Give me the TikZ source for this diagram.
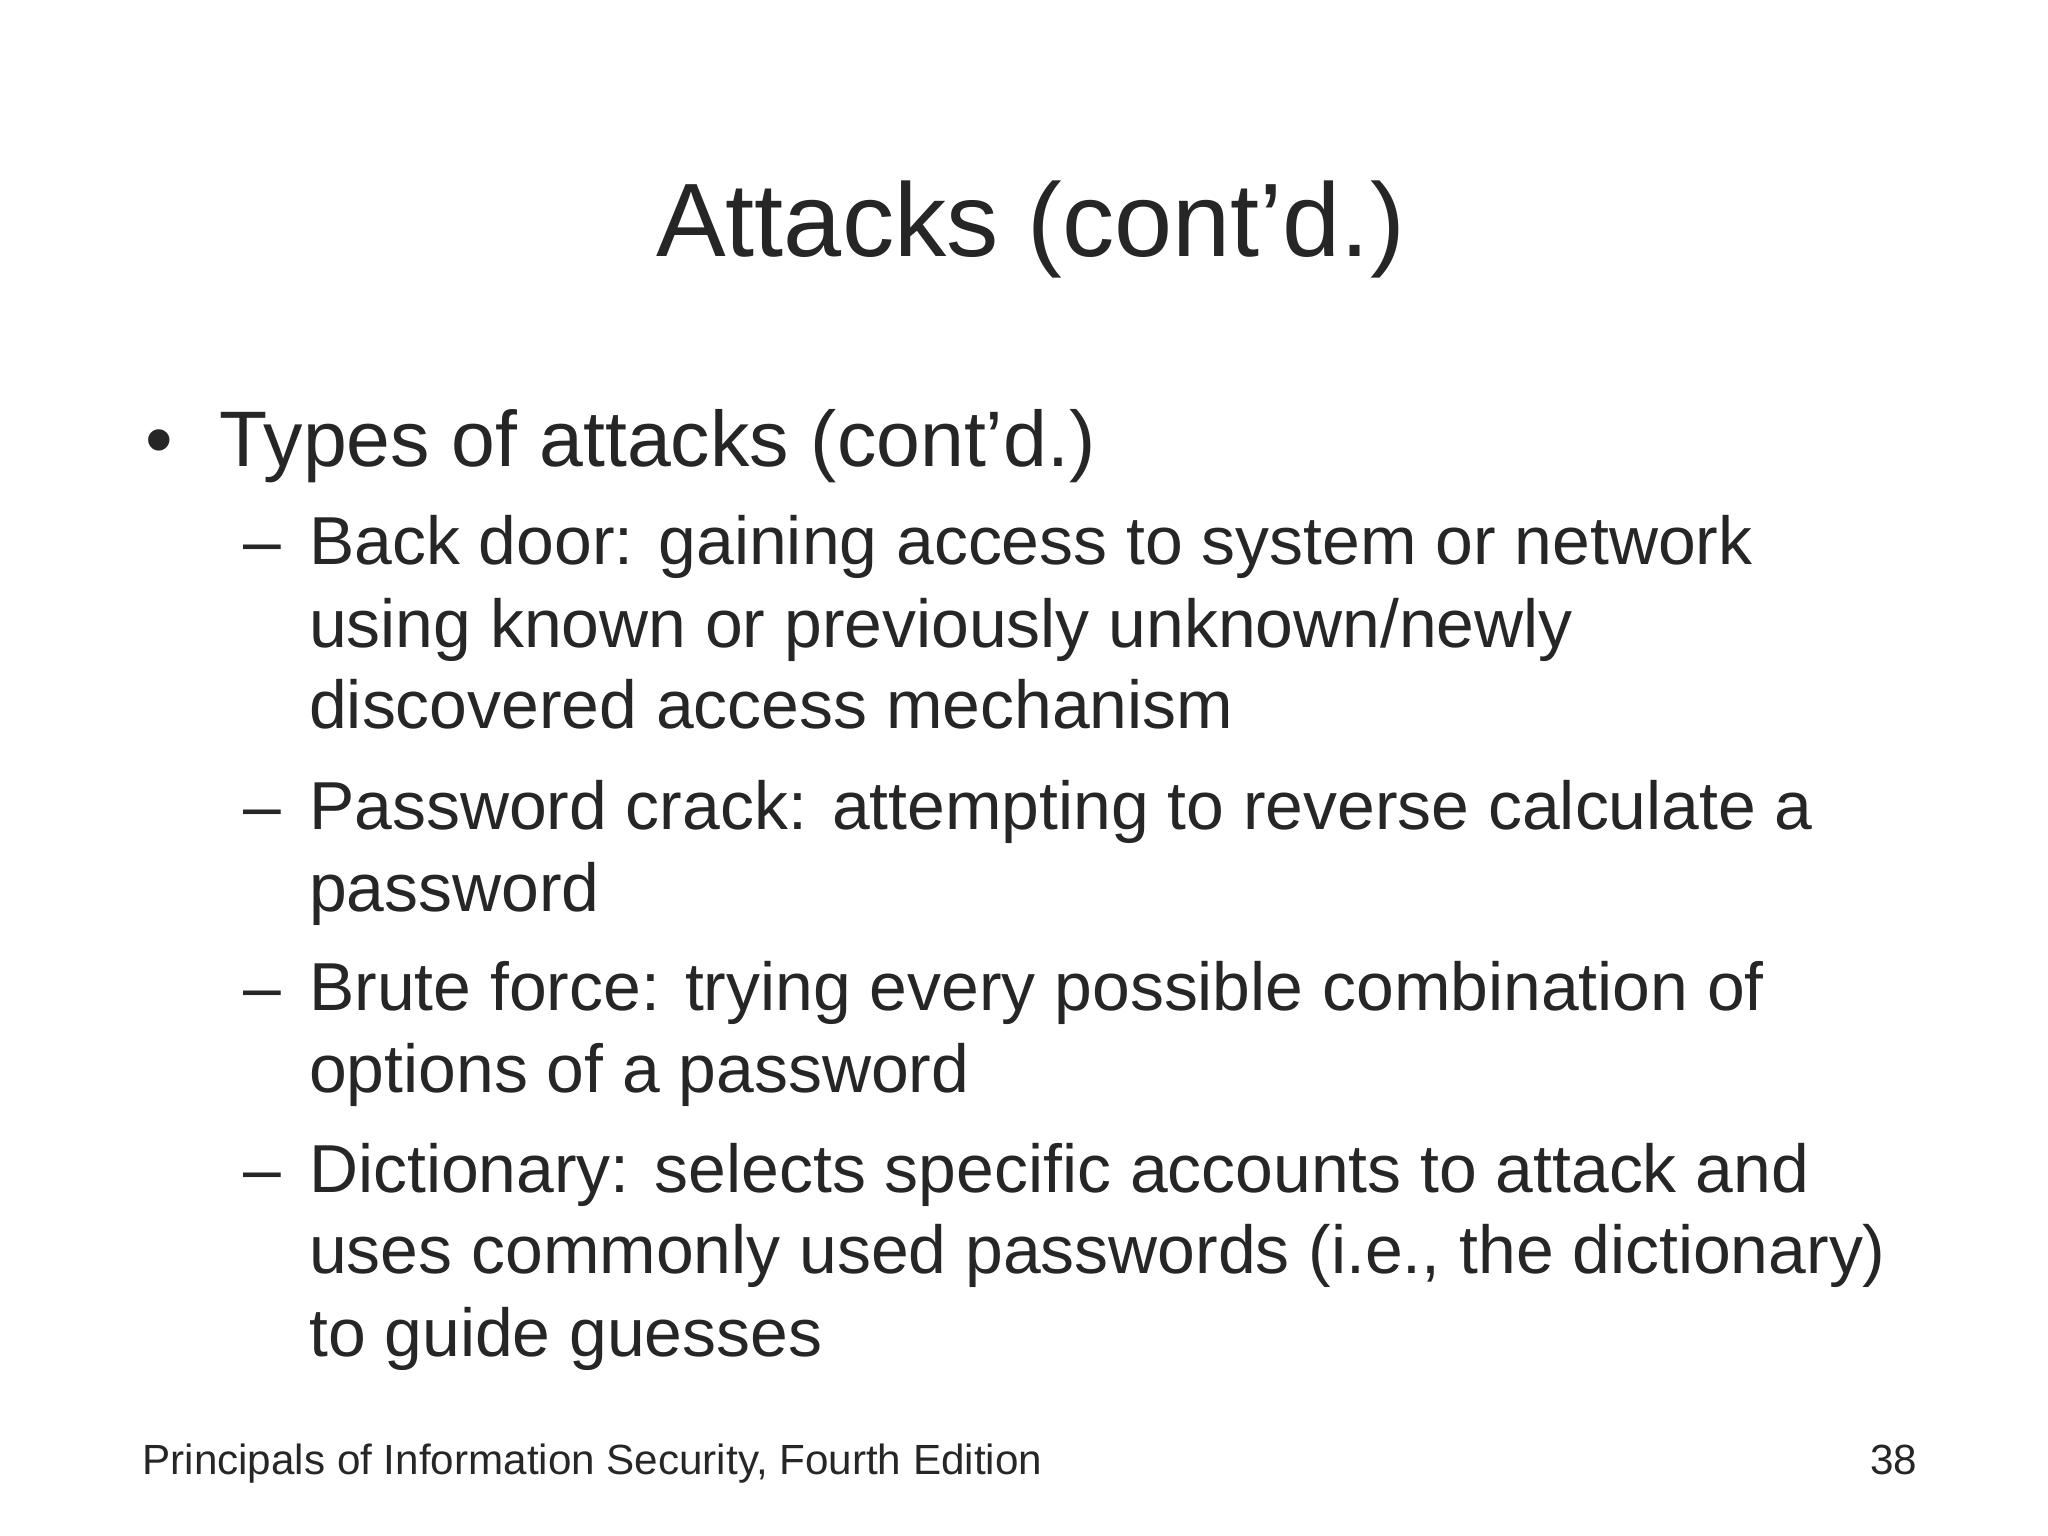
\documentclass[tikz,border=0pt]{standalone}
\usepackage{fontspec}
\setmainfont{Liberation Sans}
\definecolor{txt}{HTML}{262626}
\begin{document}
\begin{tikzpicture}[x=0.013128cm,y=-0.013128cm,
  t/.style={anchor=base west,inner sep=0pt,text=txt},
  sub/.style={t,font=\fontsize{19.3}{23}\selectfont}]
\useasboundingbox (0,0) rectangle (1560,1170);
\node[anchor=base,inner sep=0pt,text=txt,font=\fontsize{29.7}{34}\selectfont] (title) at (785,195) {Attacks (cont’d.)};
\node[t,font=\fontsize{22.4}{26}\selectfont] (b0) at (110,355) {•};
\node[t,font=\fontsize{22.4}{26}\selectfont] (l0) at (167,355) {Types of attacks (cont’d.)};
\foreach \y in {430,632,770,908}{\node[sub] at (185,\y) {–};}
\node[sub] (a1) at (235,430) {Back door: gaining access to system or network};
\node[sub] (a2) at (235,493) {using known or previously unknown/newly};
\node[sub] (a3) at (235,555) {discovered access mechanism};
\node[sub] (b1) at (235,632) {Password crack: attempting to reverse calculate a};
\node[sub] (b2) at (235,694) {password};
\node[sub] (c1) at (235,770) {Brute force: trying every possible combination of};
\node[sub] (c2) at (235,832) {options of a password};
\node[sub] (d1) at (235,908) {Dictionary: selects specific accounts to attack and};
\node[sub] (d2) at (235,970) {uses commonly used passwords (i.e., the dictionary)};
\node[sub] (d3) at (235,1033) {to guide guesses};
\node[t,font=\fontsize{12}{14}\selectfont] (foot) at (108,1123) {Principals of Information Security, Fourth Edition};
\node[anchor=base east,inner sep=0pt,text=txt,font=\fontsize{12}{14}\selectfont] (num) at (1461,1123) {38};
\end{tikzpicture}
\end{document}
